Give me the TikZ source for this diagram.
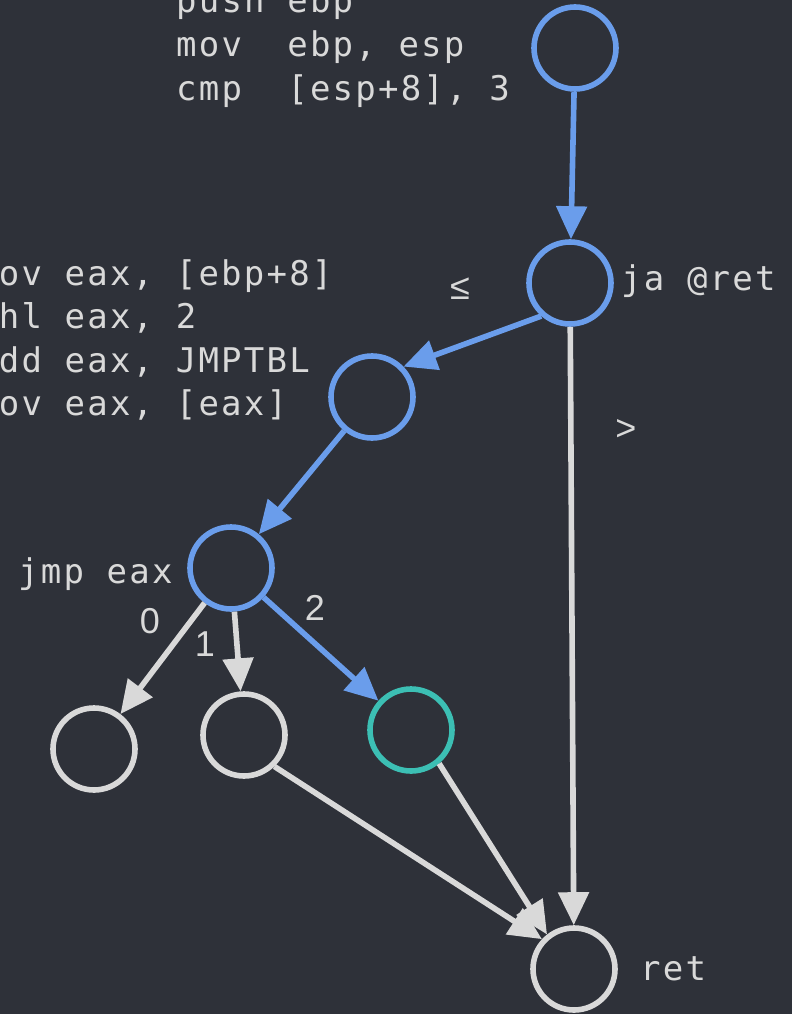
\documentclass[tikz,border=0pt]{standalone}
\usepackage{fontspec}
\usetikzlibrary{arrows.meta}
\newfontfamily\codefont{DejaVu Sans Mono}[LetterSpace=6.5]
\newfontfamily\labfont{Liberation Sans}
\definecolor{bg}{HTML}{2E3139}
\definecolor{blu}{HTML}{6A9DEB}
\definecolor{tea}{HTML}{3CBFB4}
\definecolor{gry}{HTML}{D9D9D9}
\begin{document}
\begin{tikzpicture}[x=1pt,y=-1pt,
  vtx/.style={circle,draw=#1,line width=5.6pt,minimum size=82pt,inner sep=0pt},
  code/.style={anchor=base west,inner sep=0pt,text=gry,font=\codefont\fontsize{34}{34}\selectfont},
  lab/.style={inner sep=0pt,text=gry,font=\labfont\fontsize{36}{36}\selectfont},
  conn/.style={line width=5.6pt,draw=#1,-{Triangle[length=33pt,width=30pt]}}]
\fill[bg] (0,0) rectangle (792,1014);
\useasboundingbox (0,0) rectangle (792,1014);
% vertices
\node[vtx=blu] (a) at (575,48) {};
\node[vtx=blu] (b) at (570,283) {};
\node[vtx=blu] (c) at (372,397) {};
\node[vtx=blu] (d) at (231,568) {};
\node[vtx=gry] (e) at (94,749) {};
\node[vtx=gry] (f) at (244,735) {};
\node[vtx=tea] (g) at (411,730) {};
\node[vtx=gry] (h) at (574,969) {};
% connectors
\draw[conn=blu] (a) -- (b);
\draw[conn=blu] (b.229) -- (c.44);
\draw[conn=blu] (c) -- (d);
\draw[conn=gry] (d) -- (e);
\draw[conn=gry] (d) -- (f);
\draw[conn=blu] (d) -- (g);
\draw[conn=gry] (f.-46) -- (h.137);
\draw[conn=gry] (g.-50) -- (h.128);
\draw[conn=gry] (b) -- (h);
% edge labels
\node[lab] (l0) at (150,621) {0};
\node[lab] (l1) at (205,644) {1};
\node[lab] (l2) at (315,608) {2};
\node[lab] (le) at (460,289) {≤};
\node[lab] (lg) at (626,430) {>};
% code
\node[code] (t1) at (176,13) {push ebp};
\node[code] (t2) at (176,57) {mov\ \ ebp, esp};
\node[code] (t3) at (176,101) {cmp\ \ [esp+8], 3};
\node[code] (m1) at (-24,285) {mov eax, [ebp+8]};
\node[code] (m2) at (-24,328) {shl eax, 2};
\node[code] (m3) at (-24,372) {add eax, JMPTBL};
\node[code] (m4) at (-24,415) {mov eax, [eax]};
\node[code] (j1) at (18,583) {jmp eax};
\node[code] (j2) at (621,290) {ja @ret};
\node[code] (r1) at (640,980) {ret};
\end{tikzpicture}
\end{document}
